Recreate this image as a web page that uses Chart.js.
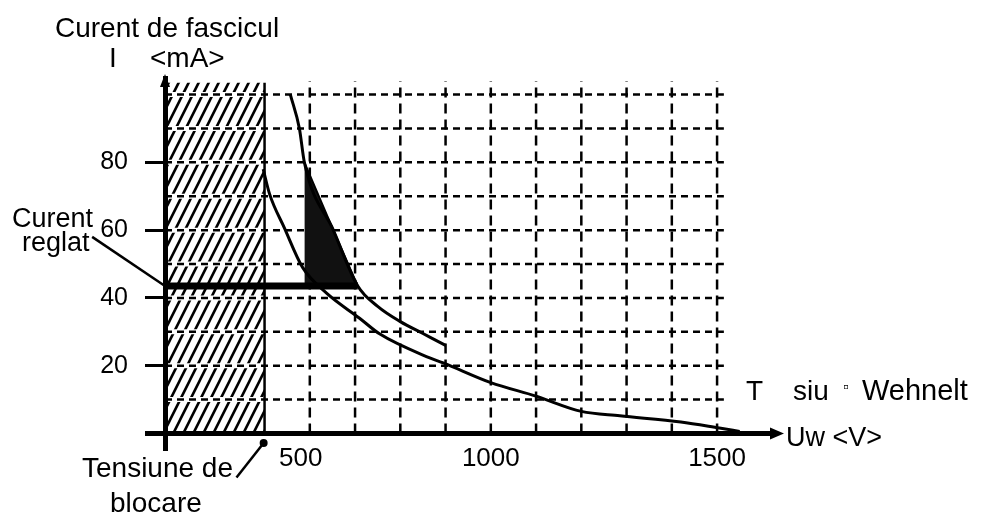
<!DOCTYPE html>
<html lang="ro">
<head>
<meta charset="UTF-8">
<title>Curent de fascicul - Tensiune Wehnelt</title>
<script src="https://cdn.jsdelivr.net/npm/chart.js"></script>
<style>
  body { margin: 0; background: #fff; }
  #wrap { width: 986px; height: 514px; }
</style>
</head>
<body>
<div id="wrap"><canvas id="chart" width="986" height="514"></canvas></div>
<script>
// axis ticks and dashed grid
const xTicks = [500, 1000, 1500];
const yTicks = [20, 40, 60, 80];
const gridX = [600, 700, 800, 900, 1000, 1100, 1200, 1300, 1400, 1500];
const gridY = [10, 20, 30, 40, 50, 60, 70, 80, 90, 100];

// blocked zone (from the I axis up to the blocking voltage)
const blockX = [280, 500];
const blockTop = 103.5;

// regulated current
const currentSet = 43.5;

// upper curve
const outerX = [557, 577, 588, 652, 706, 750, 800, 850, 900];
const outerY = [100, 90, 80, 60, 43.5, 37.5, 33, 29.5, 26];

// lower curve
const innerX = [497, 511, 544, 584, 637, 710, 754, 865, 895, 1000, 1100, 1200, 1285, 1420, 1505, 1550];
const innerY = [78, 70.7, 60.6, 49, 41.4, 34, 29.4, 22.3, 20.8, 15, 11, 6.5, 5.2, 3.4, 1.6, 0.6];

// pointer lines of the labels
const reglatX = [119, 280];
const reglatY = [58, 43.5];
const blocareX = [438, 498];
const blocareY = [-13, -2.8];

const pts = (xs, ys) => xs.map((x, i) => ({ x: x, y: ys[i] }));
const FONT = '"Liberation Sans", Arial, sans-serif';

function hatchPattern() {
    const c = document.createElement('canvas');
    c.width = 10; c.height = 20;
    const g = c.getContext('2d');
    g.fillStyle = '#fff';
    g.fillRect(0, 0, 10, 20);
    g.strokeStyle = '#000';
    g.lineWidth = 2.6;
    g.beginPath();
    g.moveTo(-15, 30); g.lineTo(5, -10);
    g.moveTo(-5, 30); g.lineTo(15, -10);
    g.moveTo(5, 30); g.lineTo(25, -10);
    g.stroke();
    return g.createPattern(c, 'repeat');
}

function line(data, opts) {
    return Object.assign({
        data: data,
        borderColor: '#000',
        borderWidth: 3,
        pointRadius: 0,
        fill: false,
        tension: 0
    }, opts);
}

const datasets = [];
datasets.push(line(pts(blockX, [blockTop, blockTop]), {
    fill: 'origin', backgroundColor: hatchPattern(), borderWidth: 0, order: 20
}));
gridY.forEach(v => datasets.push(line(pts(blockX, [v, v]), { borderColor: '#fff', borderWidth: 5, order: 15 })));
datasets.push(line(pts([blockX[1], blockX[1]], [0, blockTop]), { borderWidth: 2.5, order: 14 }));
gridY.forEach(v => datasets.push(line(pts([280, 1515], [v, v]), { borderWidth: 2.5, borderDash: [7, 5], order: 12 })));
gridX.forEach(v => datasets.push(line(pts([v, v], [0, 104]), { borderWidth: 2.5, borderDash: [10, 6], order: 12 })));

// filled triangle between the upper curve and the regulated current
const triIdx = outerX.map((x, i) => i).filter(i => outerX[i] >= 588 && outerX[i] <= 706);
datasets.push(line(pts(triIdx.map(i => outerX[i]), triIdx.map(i => outerY[i])), {
    fill: { value: currentSet }, backgroundColor: '#111', borderWidth: 2, order: 6
}));
datasets.push(line(pts([280, 706], [currentSet, currentSet]), { borderWidth: 7, borderCapStyle: 'butt', order: 4 }));
datasets.push(line(pts(outerX, outerY), { cubicInterpolationMode: 'monotone', order: 3 }));
datasets.push(line(pts(innerX, innerY), { cubicInterpolationMode: 'monotone', order: 3 }));
datasets.push(line(pts(reglatX, reglatY), { borderWidth: 2.5, clip: false, order: 2 }));
datasets.push(line(pts(blocareX, blocareY), {
    borderWidth: 2.5, clip: false, order: 2,
    pointRadius: [0, 4], pointBackgroundColor: '#000', pointBorderWidth: 0
}));

const annotations = {
    id: 'annotations',
    afterDraw(chart) {
        const ctx = chart.ctx;
        const ca = chart.chartArea;
        const x0 = ca.left;
        const y0 = chart.scales.y.getPixelForValue(0);
        ctx.save();
        ctx.fillStyle = '#000';
        // arrow heads
        ctx.beginPath();
        ctx.moveTo(ca.right + 9, y0);
        ctx.lineTo(ca.right - 5, y0 - 6);
        ctx.lineTo(ca.right - 5, y0 + 6);
        ctx.closePath();
        ctx.fill();
        ctx.beginPath();
        ctx.moveTo(x0, ca.top - 4);
        ctx.lineTo(x0 - 5, ca.top + 9);
        ctx.lineTo(x0 + 5, ca.top + 9);
        ctx.closePath();
        ctx.fill();
        // texts
        ctx.textBaseline = 'alphabetic';
        ctx.textAlign = 'left';
        ctx.font = '28px ' + FONT;
        ctx.fillText('Curent de fascicul', 55, 37);
        ctx.fillText('I', 109, 67);
        ctx.fillText('<mA>', 150, 67);
        ctx.font = '27px ' + FONT;
        ctx.fillText('Curent', 12, 227);
        ctx.fillText('reglat', 22, 251);
        ctx.font = '28px ' + FONT;
        ctx.fillText('Tensiune de', 82, 477);
        ctx.fillText('blocare', 110, 512);
        ctx.font = '27px ' + FONT;
        ctx.fillText('Uw <V>', 786, 446);
        ctx.font = '28px ' + FONT;
        ctx.fillText('T', 746, 400);
        ctx.fillText('siu', 793, 400);
        ctx.font = '16px ' + FONT;
        ctx.fillText('\u25AB', 843, 392);
        ctx.font = '29px ' + FONT;
        ctx.fillText('Wehnelt', 862, 400);
        ctx.restore();
    }
};

new Chart(document.getElementById('chart'), {
    type: 'line',
    data: { datasets: datasets },
    options: {
        responsive: false,
        animation: false,
        events: [],
        layout: { padding: { left: 0, right: 211, top: 78, bottom: 66 } },
        plugins: { legend: { display: false }, tooltip: { enabled: false } },
        scales: {
            x: {
                type: 'linear', min: 280, max: 1628,
                position: { y: 0 },
                grid: { display: false, drawTicks: false },
                border: { display: true, color: '#000', width: 5, z: 1 },
                afterBuildTicks: axis => { axis.ticks = xTicks.map(v => ({ value: v })); },
                ticks: {
                    color: '#000', padding: 10, autoSkip: false, maxRotation: 0,
                    font: { family: FONT, size: 26 },
                    callback: v => v === 500 ? '          500' : String(v)
                }
            },
            y: {
                type: 'linear', min: -4.3, max: 104.9,
                position: 'left',
                afterFit: axis => { axis.width = 165; },
                grid: {
                    display: true, drawOnChartArea: false, drawTicks: true, tickLength: 20, color: '#000',
                    lineWidth: c => (c.tick && c.tick.value === 0) ? 5 : 3
                },
                border: { display: true, color: '#000', width: 5, z: 1 },
                afterBuildTicks: axis => { axis.ticks = [0].concat(yTicks).map(v => ({ value: v })); },
                ticks: {
                    color: '#000', padding: 17, autoSkip: false,
                    font: { family: FONT, size: 25 },
                    callback: v => v === 0 ? '' : String(v)
                }
            }
        }
    },
    plugins: [annotations]
});
</script>
</body>
</html>
